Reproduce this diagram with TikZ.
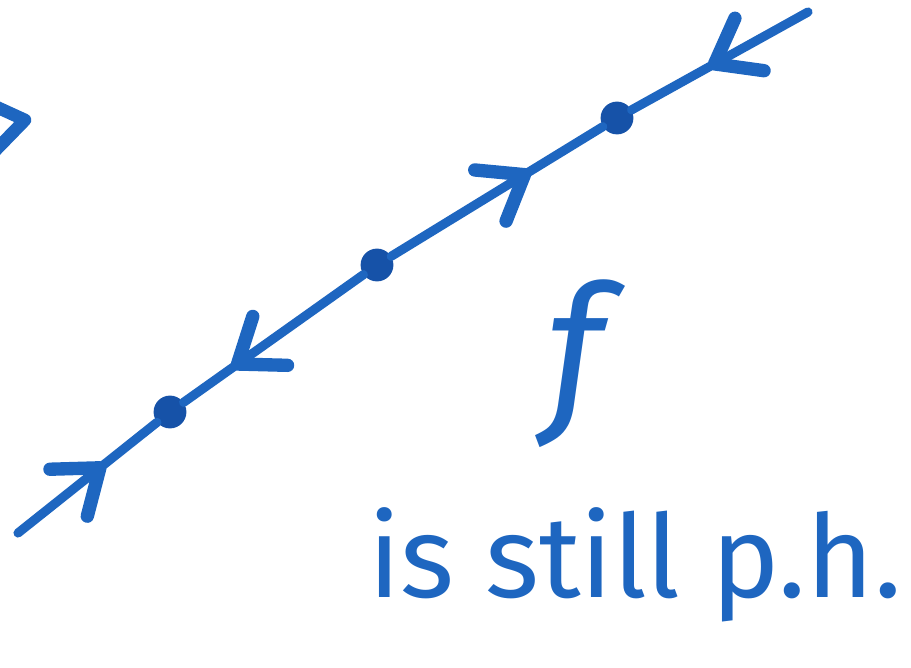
\documentclass[tikz,border=0pt]{standalone}
\usepackage{fontspec}
\setmainfont{Fira Sans}
\usepackage{tikz}
\usetikzlibrary{decorations.markings}
\definecolor{PenBlue}{RGB}{30,102,192}
\definecolor{PenDark}{RGB}{22,82,168}

\begin{document}
\begin{tikzpicture}[x=0.025cm, y=-0.025cm,
          dt/.style={circle, fill=PenDark, minimum size=0.82cm, inner sep=0pt},
          ln/.style={PenBlue, line width=6.5pt, line cap=round},
          arw/.style={postaction={decorate}, decoration={markings,
            mark=at position #1 with {\draw[PenBlue, line width=9.5pt,
              line cap=round, line join=round] (-40,30) -- (0,0) -- (-40,-30);}}},
          lbl/.style={PenBlue, inner sep=0pt}
        ]
        \clip (0,0) rectangle (911,668);

        % ends of the line
        \coordinate (S) at (18,533);
        \coordinate (E) at (808,12);

        % the three points on the line
        \foreach \i/\x/\y in {
          D1/170/412, D2/377/265, D3/617/118} {
          \node[dt] (\i) at (\x, \y) {};
        }

        % segments with their orientation
        \draw[ln, arw=0.59] (S) -- (D1);
        \draw[ln, arw=0.70] (D2) -- (D1);
        \draw[ln, arw=0.63] (D2) -- (D3);
        \draw[ln, arw=0.53] (E) -- (D3);

        % piece of a tip cut by the left edge
        \draw[PenBlue, line width=9pt, line cap=round, line join=round]
              (-10,104) -- (25,120) -- (-10,156);

        % labels
        \node[lbl, anchor=base, font=\fontsize{124}{124}\selectfont\itshape]
              (FN) at (575,410) {f};
        \node[lbl, anchor=base west, font=\fontsize{82}{82}\selectfont]
              (TXT) at (368,597) {is still p.h.};
      \end{tikzpicture}
\end{document}
